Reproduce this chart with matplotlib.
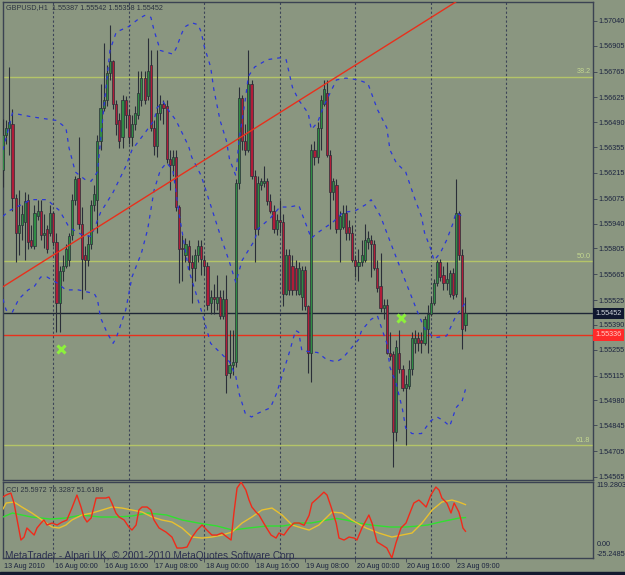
import matplotlib
matplotlib.use("Agg")
import matplotlib.pyplot as plt
import numpy as np

plt.rcParams['font.family'] = ['Liberation Sans', 'DejaVu Sans']

# GBPUSD H1 candles, 13 Aug 2010 08:00 .. 23 Aug 2010 12:00
opens = [1.5623, 1.5642, 1.5646, 1.5648, 1.5608, 1.5589, 1.5593, 1.5595, 1.5607, 1.5585,
         1.5582, 1.5598, 1.5601, 1.5588, 1.5591, 1.5589, 1.5600, 1.5584, 1.5551, 1.5568,
         1.5571, 1.5574, 1.5588, 1.5607, 1.5619, 1.5594, 1.5577, 1.5574, 1.5583, 1.5604,
         1.5607, 1.5639, 1.5657, 1.5661, 1.5676, 1.5682, 1.5659, 1.5650, 1.5641, 1.5661,
         1.5653, 1.5641, 1.5648, 1.5653, 1.5661, 1.5673, 1.5663, 1.5680, 1.5646, 1.5636,
         1.5654, 1.5659, 1.5658, 1.5629, 1.5626, 1.5630, 1.5603, 1.5581, 1.5577, 1.5582,
         1.5573, 1.5570, 1.5577, 1.5582, 1.5574, 1.5571, 1.5551, 1.5554, 1.5551, 1.5554,
         1.5544, 1.5553, 1.5513, 1.5517, 1.5519, 1.5616, 1.5662, 1.5639, 1.5634, 1.5670,
         1.5620, 1.5591, 1.5615, 1.5616, 1.5617, 1.5606, 1.5601, 1.5591, 1.5596, 1.5595,
         1.5556, 1.5577, 1.5571, 1.5570, 1.5556, 1.5554, 1.5569, 1.5549, 1.5524, 1.5634,
         1.5630, 1.5646, 1.5659, 1.5665, 1.5631, 1.5611, 1.5615, 1.5591, 1.5592, 1.5600,
         1.5592, 1.5589, 1.5574, 1.5571, 1.5573, 1.5574, 1.5584, 1.5585, 1.5583, 1.5570,
         1.5560, 1.5548, 1.5550, 1.5524, 1.5523, 1.5481, 1.5524, 1.5515, 1.5505, 1.5506,
         1.5515, 1.5529, 1.5532, 1.5531, 1.5529, 1.5537, 1.5545, 1.5551, 1.5562, 1.5573,
         1.5566, 1.5562, 1.5556, 1.5567, 1.5556, 1.5600, 1.5577, 1.55387]
highs = [1.5651, 1.5650, 1.5679, 1.5656, 1.5610, 1.5612, 1.5604, 1.5611, 1.5610, 1.5593,
         1.5604, 1.5607, 1.5607, 1.5599, 1.5593, 1.5604, 1.5601, 1.5589, 1.5571, 1.5577,
         1.5583, 1.5589, 1.5610, 1.5620, 1.5641, 1.5603, 1.5582, 1.5588, 1.5607, 1.5615,
         1.5642, 1.5670, 1.5692, 1.5680, 1.5702, 1.5683, 1.5661, 1.5654, 1.5664, 1.5663,
         1.5656, 1.5653, 1.5658, 1.5677, 1.5677, 1.5677, 1.5695, 1.5688, 1.5650, 1.5688,
         1.5664, 1.5661, 1.5661, 1.5634, 1.5634, 1.5634, 1.5604, 1.5588, 1.5586, 1.5585,
         1.5577, 1.5580, 1.5585, 1.5585, 1.5577, 1.5573, 1.5558, 1.5561, 1.5566, 1.5558,
         1.5558, 1.5566, 1.5536, 1.5536, 1.5618, 1.5668, 1.5664, 1.5648, 1.5688, 1.5672,
         1.5623, 1.5620, 1.5619, 1.5625, 1.5619, 1.5610, 1.5604, 1.5599, 1.5607, 1.5599,
         1.5580, 1.5580, 1.5577, 1.5574, 1.5573, 1.5571, 1.5571, 1.5550, 1.5637, 1.5639,
         1.5649, 1.5664, 1.5672, 1.5672, 1.5634, 1.5619, 1.5618, 1.5601, 1.5604, 1.5604,
         1.5596, 1.5593, 1.5577, 1.5580, 1.5585, 1.5594, 1.5590, 1.5588, 1.5585, 1.5574,
         1.5578, 1.5553, 1.5553, 1.5535, 1.5525, 1.5531, 1.5536, 1.5517, 1.5512, 1.5520,
         1.5535, 1.5536, 1.5535, 1.5535, 1.5544, 1.5550, 1.5554, 1.5564, 1.5574, 1.5575,
         1.5571, 1.5573, 1.5569, 1.5570, 1.5618, 1.5601, 1.5580, 1.55542]
lows = [1.5614, 1.5637, 1.5631, 1.5601, 1.5573, 1.5577, 1.5585, 1.5574, 1.5580, 1.5581,
        1.5580, 1.5596, 1.5585, 1.5581, 1.5578, 1.5587, 1.5582, 1.5535, 1.5535, 1.5563,
        1.5570, 1.5571, 1.5585, 1.5604, 1.5591, 1.5553, 1.5558, 1.5571, 1.5580, 1.5601,
        1.5589, 1.5634, 1.5655, 1.5658, 1.5672, 1.5656, 1.5642, 1.5635, 1.5635, 1.5646,
        1.5637, 1.5636, 1.5645, 1.5651, 1.5658, 1.5659, 1.5661, 1.5644, 1.5631, 1.5630,
        1.5650, 1.5648, 1.5627, 1.5612, 1.5620, 1.5601, 1.5562, 1.5563, 1.5573, 1.5569,
        1.5551, 1.5563, 1.5573, 1.5566, 1.5566, 1.5547, 1.5545, 1.5545, 1.5547, 1.5542,
        1.5542, 1.5502, 1.5510, 1.5512, 1.5516, 1.5613, 1.5634, 1.5631, 1.5633, 1.5618,
        1.5573, 1.5588, 1.5612, 1.5614, 1.5604, 1.5600, 1.5589, 1.5588, 1.5589, 1.5549,
        1.5555, 1.5555, 1.5555, 1.5555, 1.5555, 1.5547, 1.5547, 1.5513, 1.5508, 1.5626,
        1.5627, 1.5634, 1.5658, 1.5630, 1.5591, 1.5607, 1.5589, 1.5573, 1.5591, 1.5585,
        1.5585, 1.5573, 1.5565, 1.5563, 1.5571, 1.5573, 1.5580, 1.5565, 1.5569, 1.5557,
        1.5546, 1.5542, 1.5523, 1.5520, 1.5462, 1.5476, 1.5513, 1.5503, 1.5474, 1.5504,
        1.5512, 1.5524, 1.5525, 1.5524, 1.5528, 1.5524, 1.5544, 1.5550, 1.5560, 1.5563,
        1.5558, 1.5558, 1.5554, 1.5553, 1.5554, 1.5574, 1.5526, 1.55358]
closes = [1.5642, 1.5646, 1.5649, 1.5608, 1.5589, 1.5593, 1.5599, 1.5606, 1.5584, 1.5582,
          1.5600, 1.5601, 1.5588, 1.5589, 1.5580, 1.5600, 1.5584, 1.5551, 1.5568, 1.5571,
          1.5580, 1.5587, 1.5607, 1.5618, 1.5594, 1.5575, 1.5574, 1.5583, 1.5604, 1.5610,
          1.5639, 1.5657, 1.5661, 1.5676, 1.5682, 1.5659, 1.5648, 1.5639, 1.5661, 1.5653,
          1.5641, 1.5648, 1.5654, 1.5665, 1.5673, 1.5661, 1.5677, 1.5646, 1.5636, 1.5654,
          1.5659, 1.5657, 1.5629, 1.5626, 1.5630, 1.5603, 1.5580, 1.5580, 1.5583, 1.5573,
          1.5570, 1.5577, 1.5582, 1.5575, 1.5571, 1.5550, 1.5554, 1.5553, 1.5554, 1.5544,
          1.5553, 1.5512, 1.5517, 1.5519, 1.5616, 1.5662, 1.5639, 1.5634, 1.5670, 1.5620,
          1.5591, 1.5616, 1.5617, 1.5617, 1.5606, 1.5601, 1.5591, 1.5596, 1.5595, 1.5556,
          1.5577, 1.5558, 1.5558, 1.5558, 1.5570, 1.5569, 1.5549, 1.5524, 1.5634, 1.5630,
          1.5646, 1.5661, 1.5667, 1.5631, 1.5611, 1.5617, 1.5591, 1.5598, 1.5600, 1.5589,
          1.5589, 1.5574, 1.5571, 1.5573, 1.5577, 1.5585, 1.5586, 1.5583, 1.5570, 1.5559,
          1.5548, 1.5550, 1.5524, 1.5522, 1.5481, 1.5527, 1.5515, 1.5505, 1.5507, 1.5515,
          1.5532, 1.5532, 1.5529, 1.5529, 1.5542, 1.5545, 1.5551, 1.5562, 1.5573, 1.5565,
          1.5562, 1.5564, 1.5567, 1.5555, 1.5600, 1.5577, 1.5537, 1.55452]

# dashed band lines (bar position, price)
bb_up_x = [0, 3, 9, 17, 20, 21, 23, 26, 28, 30, 32, 34, 36, 40, 43, 45, 47, 48, 50, 52, 54, 55, 57,
           58, 60, 62, 63, 64, 66, 67, 69, 71, 72, 74, 75, 77, 78, 80, 84, 88, 90, 92, 94, 97, 98,
           100, 102, 106, 109, 113, 116, 119, 122, 123, 125, 128, 131, 133, 134, 136, 137, 139,
           141, 143, 144, 146, 147]
bb_up = [1.5634, 1.5654, 1.5652, 1.5650, 1.5646, 1.5635, 1.5622, 1.5618, 1.5617, 1.5622, 1.5656,
         1.5688, 1.5698, 1.5701, 1.5705, 1.5707, 1.5706, 1.5699, 1.5688, 1.5687, 1.5686, 1.5689,
         1.5698, 1.5701, 1.5703, 1.5702, 1.5698, 1.5690, 1.5679, 1.5667, 1.5650, 1.5639, 1.5629,
         1.5620, 1.5639, 1.5661, 1.5674, 1.5679, 1.5683, 1.5684, 1.5683, 1.5668, 1.5661, 1.5654,
         1.5645, 1.5649, 1.5658, 1.5672, 1.5673, 1.5672, 1.5670, 1.5656, 1.5646, 1.5634, 1.5627,
         1.5622, 1.5607, 1.5598, 1.5589, 1.5580, 1.5574, 1.5578, 1.5585, 1.5594, 1.5600, 1.5598,
         1.5599]
bb_mid_x = [0, 2, 9, 14, 18, 21, 25, 28, 31, 35, 37, 39, 41, 45, 48, 49, 51, 52, 55, 57, 59, 60,
            63, 66, 69, 72, 74, 76, 80, 81, 85, 88, 91, 94, 98, 100, 105, 108, 112, 116, 117, 120,
            124, 129, 132, 134, 137, 141, 144, 147]
bb_mid = [1.5598, 1.5601, 1.5607, 1.5607, 1.5601, 1.5592, 1.5588, 1.5587, 1.5600, 1.5611, 1.5618,
          1.5625, 1.5634, 1.5643, 1.5650, 1.5657, 1.5660, 1.5657, 1.5650, 1.5643, 1.5636, 1.5630,
          1.5620, 1.5604, 1.5588, 1.5573, 1.5562, 1.5574, 1.5585, 1.5591, 1.5597, 1.5603, 1.5603,
          1.5604, 1.5586, 1.5589, 1.5595, 1.5600, 1.5601, 1.5605, 1.5607, 1.5598, 1.5580, 1.5558,
          1.5545, 1.5537, 1.5532, 1.5533, 1.5544, 1.5551]
bb_low_x = [0, 1, 3, 5, 8, 10, 12, 14, 17, 20, 24, 29, 30, 31, 33, 35, 36, 39, 41, 44, 46, 48, 50,
            52, 54, 56, 59, 63, 66, 69, 72, 74, 75, 77, 79, 81, 85, 87, 89, 91, 93, 94, 95, 100,
            103, 106, 108, 110, 113, 114, 117, 119, 120, 122, 123, 125, 127, 128, 130, 133, 136,
            138, 140, 142, 144, 146, 147]
bb_low = [1.5553, 1.5547, 1.5546, 1.5553, 1.5558, 1.5560, 1.5565, 1.5565, 1.5562, 1.5558, 1.5558,
          1.5556, 1.5553, 1.5543, 1.5535, 1.5529, 1.5532, 1.5547, 1.5565, 1.5578, 1.5591, 1.5612,
          1.5623, 1.5627, 1.5623, 1.5599, 1.5569, 1.5547, 1.5529, 1.5524, 1.5519, 1.5511, 1.5502,
          1.5491, 1.5489, 1.5491, 1.5494, 1.5502, 1.5513, 1.5524, 1.5536, 1.5535, 1.5525, 1.5524,
          1.5520, 1.5519, 1.5521, 1.5525, 1.5531, 1.5536, 1.5542, 1.5544, 1.5539, 1.5529, 1.5516,
          1.5507, 1.5493, 1.5483, 1.5480, 1.5480, 1.5487, 1.5489, 1.5487, 1.5484, 1.5494, 1.5498,
          1.5504]

trend_pts = [(17, 1.5578), (98, 1.5665)]
fib_levels = [1.56736, 1.55737, 1.54738]
fib_labels = ['38.2', '50.0', '61.8']
bid_price = 1.55452
red_level = 1.55336
signal_x = [18.4, 126.5]
signal_y = [1.55259, 1.55427]

price_ticks = [1.57040, 1.56905, 1.56765, 1.56625, 1.56490, 1.56355, 1.56215, 1.56075, 1.55940,
               1.55805, 1.55665, 1.55525, 1.55390, 1.55255, 1.55115, 1.54980, 1.54845, 1.54705,
               1.54565]

# CCI sub-window
cci_x = [0, 1, 2.5, 3.5, 4.5, 5.7, 6.7, 7.6, 8.9, 9.9, 10.8, 12.1, 13, 14, 15.6, 17.2, 18.8, 20.3,
         21.9, 23.5, 24.8, 25.7, 26.7, 28, 29.6, 31.2, 32.7, 33.7, 34.6, 35.9, 36.9, 38.5, 40, 41,
         42.3, 43.2, 44.2, 45.8, 47, 48, 49.6, 51.8, 53.7, 55.3, 56.9, 58.5, 60.1, 61.7, 63.3, 64.8,
         66.4, 68, 69.6, 71.2, 72.5, 73.4, 74.4, 75.7, 77.2, 78.2, 79.1, 80.4, 81.4, 82.3, 83.6,
         85.2, 86.8, 87.7, 89.3, 90.9, 92.5, 94.1, 95.7, 97.3, 98.2, 100.4, 102, 103, 104.3, 105.9,
         106.8, 108.4, 110, 111.6, 112.5, 114.1, 116.3, 117.3, 118.9, 120.5, 122, 123.6, 124.9,
         126.5, 128.1, 129.7, 130.6, 132.2, 133.2, 134.5, 136, 137.6, 138.6, 139.5, 141.1, 142.4,
         143.4, 144.9, 145.6, 146.2, 147]
cci = [91, 94.5, 98.3, 79.3, 47, 8.9, 14.6, 31.8, 24.1, 18.4, 31.8, 41.3, 47, 37.5, 41.3, 37.5,
       43.2, 47, 69.8, 94.5, 71.7, 52.7, 43.2, 50.8, 88.8, 88.8, 88.8, 90.7, 79.3, 60.3, 52.7, 47,
       33.7, 27.9, 37.5, 66, 71.7, 71.7, 66, 47, 31.8, 24.1, 14.6, -6.3, -6.3, -4.4, 14.6, 27.9,
       37.5, 27.9, 18.4, 18.4, 22.2, 14.6, 8.9, 60.3, 107.8, 119, 104, 85, 71.7, 62.2, 56.5, 47,
       33.7, 18.4, 12.7, 22.2, 18.4, 31.8, 41.3, 41.3, 37, 56, 79, 90.7, 100, 94.5, 71.7, 41.3,
       12.7, 8.9, 14.6, 12.7, 8.9, 31.8, 56.5, 41.3, 5.1, -0.6, -6.3, -25.2, 3.2, 31.8, 41.3, 66,
       79.3, 85, 79.3, 71.7, 94.5, 109.7, 104, 88.8, 79.3, 60.3, 79.3, 62.2, 47, 31.8, 25.6]
cci_ma_x = [0, 1, 3.5, 6, 9.2, 12.4, 15.6, 17.8, 20, 21.9, 25.1, 28.3, 31.5, 34.6, 37.8, 41, 44.2,
            47.4, 50.5, 53.7, 56.9, 60.1, 63.3, 66.4, 69.6, 72.8, 76, 79.1, 82.3, 85.5, 88.7, 91.9,
            95, 97.3, 100.4, 104.6, 107.8, 110.9, 115.4, 119.5, 123.6, 126.8, 130, 133.2, 136.4,
            139.5, 142.7, 144.9, 147]
cci_ma = [68, 79.3, 81.2, 71.7, 60.3, 47, 33.7, 31.8, 37.5, 47, 56.5, 60.3, 66, 71.7, 69.8, 66,
          62.2, 52.7, 47, 43.2, 31.8, 14.6, 12.7, 14.6, 18.4, 24.1, 41.3, 52.7, 66, 69.8, 56.5,
          37.5, 31.8, 27.9, 37.5, 62.2, 60.3, 47, 31.8, 22.2, 14.6, 18.4, 22.2, 41.3, 66, 81.2, 85,
          81.2, 76.3]
cci_slow_x = [0, 3, 9, 15, 20, 25, 31, 36, 41, 46, 52, 57, 62, 68, 73, 78, 84, 89, 94, 98, 103, 106,
              109, 113, 117, 123, 128, 132, 135, 139, 142, 145, 147]
cci_slow = [52.7, 60.3, 52.7, 48.9, 50.8, 56.5, 52.7, 52.7, 54.6, 60.3, 56.5, 47, 41.3, 35.6, 27.9,
            31.8, 35.6, 35.6, 41.3, 41.3, 47, 50, 47, 41.3, 37.5, 33.7, 33.7, 35.6, 37.5, 43.2, 47,
            50.8, 51.6]
cci_max, cci_min = 119.2803, -25.2485

date_x = [0, 16, 32, 48, 64, 80, 96, 112, 128, 144]
date_labels = ['13 Aug 2010', '16 Aug 00:00', '16 Aug 16:00', '17 Aug 08:00', '18 Aug 00:00',
               '18 Aug 16:00', '19 Aug 08:00', '20 Aug 00:00', '20 Aug 16:00', '23 Aug 09:00']
grid_x = [16, 40, 64, 88, 112, 136, 160]

BG = '#8a9680'
FRAME = '#3a4252'
TXT = '#1c2440'
BULL = '#2f8c44'
BEAR = '#b01c38'
WICK = '#2a2e38'
BLUE = '#2a36d8'

W, H = 625, 575
fig = plt.figure(figsize=(W / 100, H / 100), dpi=100)
fig.patch.set_facecolor(BG)
ax = fig.add_axes([3 / W, 95 / H, 590 / W, 478 / H])
cx = fig.add_axes([3 / W, 17 / H, 590 / W, 76 / H])
XMAX = 590 / 3.146

for a in (ax, cx):
    a.set_facecolor(BG)
    a.set_xlim(0, XMAX)
    for s in a.spines.values():
        s.set_color(FRAME)
        s.set_linewidth(1.0)
    for gx in grid_x:
        a.axvline(gx, color='#3c4458', lw=0.8, ls=(0, (2, 2)), zorder=1)

# price window
ax.set_ylim(1.54548, 1.57143)
o = np.array(opens); c = np.array(closes)
hi = np.array(highs); lo = np.array(lows)
idx = np.arange(len(c))
up = c >= o
ax.vlines(idx, lo, hi, color=WICK, lw=0.8, zorder=3)
ax.bar(idx[up], np.maximum(c - o, 0.00002)[up], bottom=o[up], width=0.68,
       color=BULL, edgecolor=WICK, linewidth=0.5, zorder=4)
ax.bar(idx[~up], (o - c)[~up], bottom=c[~up], width=0.68,
       color=BEAR, edgecolor=WICK, linewidth=0.5, zorder=4)

for xs, ys in ((bb_up_x, bb_up), (bb_mid_x, bb_mid), (bb_low_x, bb_low)):
    ax.plot(xs, ys, color=BLUE, lw=0.9, ls=(0, (3, 4)), zorder=5)

for lvl, lab in zip(fib_levels, fib_labels):
    ax.axhline(lvl, color='#b4c468', lw=1.0, zorder=2)
    ax.text(XMAX - 0.8, lvl + 0.00008, lab, ha='right', va='bottom', fontsize=5.2,
            color='#c4d890', zorder=6)

ax.axline(trend_pts[0], trend_pts[1], color='#e8301c', lw=1.0, zorder=5)
ax.axhline(bid_price, color='#1e2636', lw=1.0, zorder=2)
ax.axhline(red_level, color='#e8301c', lw=1.0, zorder=2)
ax.plot(signal_x, signal_y, ls='none', marker='x', ms=6, mew=2.2, color='#8cf03c', zorder=7)

ax.yaxis.tick_right()
ax.set_yticks(price_ticks)
ax.set_yticklabels(['%.5f' % p for p in price_ticks])
ax.tick_params(axis='y', direction='out', length=3, width=0.6, colors=FRAME,
               labelcolor=TXT, labelsize=5.2, pad=1)
ax.set_xticks([])

yt = ax.get_yaxis_transform()
ax.text(1.004, bid_price, '%.5f' % bid_price, transform=yt, ha='left', va='center',
        fontsize=5.2, color='#d0d6dc', clip_on=False,
        bbox=dict(boxstyle='square,pad=0.3', fc='#101830', ec='none'))
ax.text(1.004, red_level, '%.5f' % red_level, transform=yt, ha='left', va='center',
        fontsize=5.2, color='#ffd0c8', clip_on=False,
        bbox=dict(boxstyle='square,pad=0.3', fc='#ff2a2a', ec='none'))

ax.text(0.005, 0.996, 'GBPUSD,H1  %.5f %.5f %.5f %.5f' % (opens[-1], highs[-1], lows[-1], closes[-1]),
        transform=ax.transAxes, ha='left', va='top', fontsize=5.2, color='#2a3240')

# CCI window
cx.set_ylim(cci_min, cci_max)
cx.plot(cci_slow_x, cci_slow, color='#30e030', lw=1.0, zorder=3)
cx.plot(cci_ma_x, cci_ma, color='#e8c030', lw=1.0, zorder=4)
cx.plot(cci_x, cci, color='#f02a1a', lw=1.0, zorder=5)
cx.set_yticks([])
cx.set_xticks(date_x[1:])
cx.set_xticklabels([])
cx.tick_params(axis='x', direction='out', length=3, width=0.6, colors=FRAME)
cyt = cx.get_yaxis_transform()
cx.text(1.006, cci_max, '%.4f' % cci_max, transform=cyt, ha='left', va='top', fontsize=5.2,
        color=TXT, clip_on=False)
cx.text(1.006, 0, '0.00', transform=cyt, ha='left', va='center', fontsize=5.2, color=TXT,
        clip_on=False)
cx.text(1.006, cci_min, '%.4f' % cci_min, transform=cyt, ha='left', va='bottom', fontsize=5.2,
        color=TXT, clip_on=False)
cx.text(0.005, 0.93, 'CCI %.4f %.4f %.4f' % (25.5972, 76.3287, 51.6186), transform=cx.transAxes,
        ha='left', va='top', fontsize=5.2, color='#2a3240')

xt = cx.get_xaxis_transform()
for dx, dl in zip(date_x, date_labels):
    cx.text(dx + 0.4, -0.11, dl, transform=xt, ha='left', va='center', fontsize=5.2,
            color=TXT, clip_on=False)

fig.text(5 / W, 16 / H, 'MetaTrader - Alpari UK, \u00a9 2001-2010 MetaQuotes Software Corp.',
         ha='left', va='baseline', fontsize=7.2, color='#2c3050')
fig.patches.append(plt.Rectangle((0, 0), 1, 3 / H, transform=fig.transFigure,
                                 color='#141a30', zorder=0))

fig.savefig('out.png', dpi=100, facecolor=BG)
